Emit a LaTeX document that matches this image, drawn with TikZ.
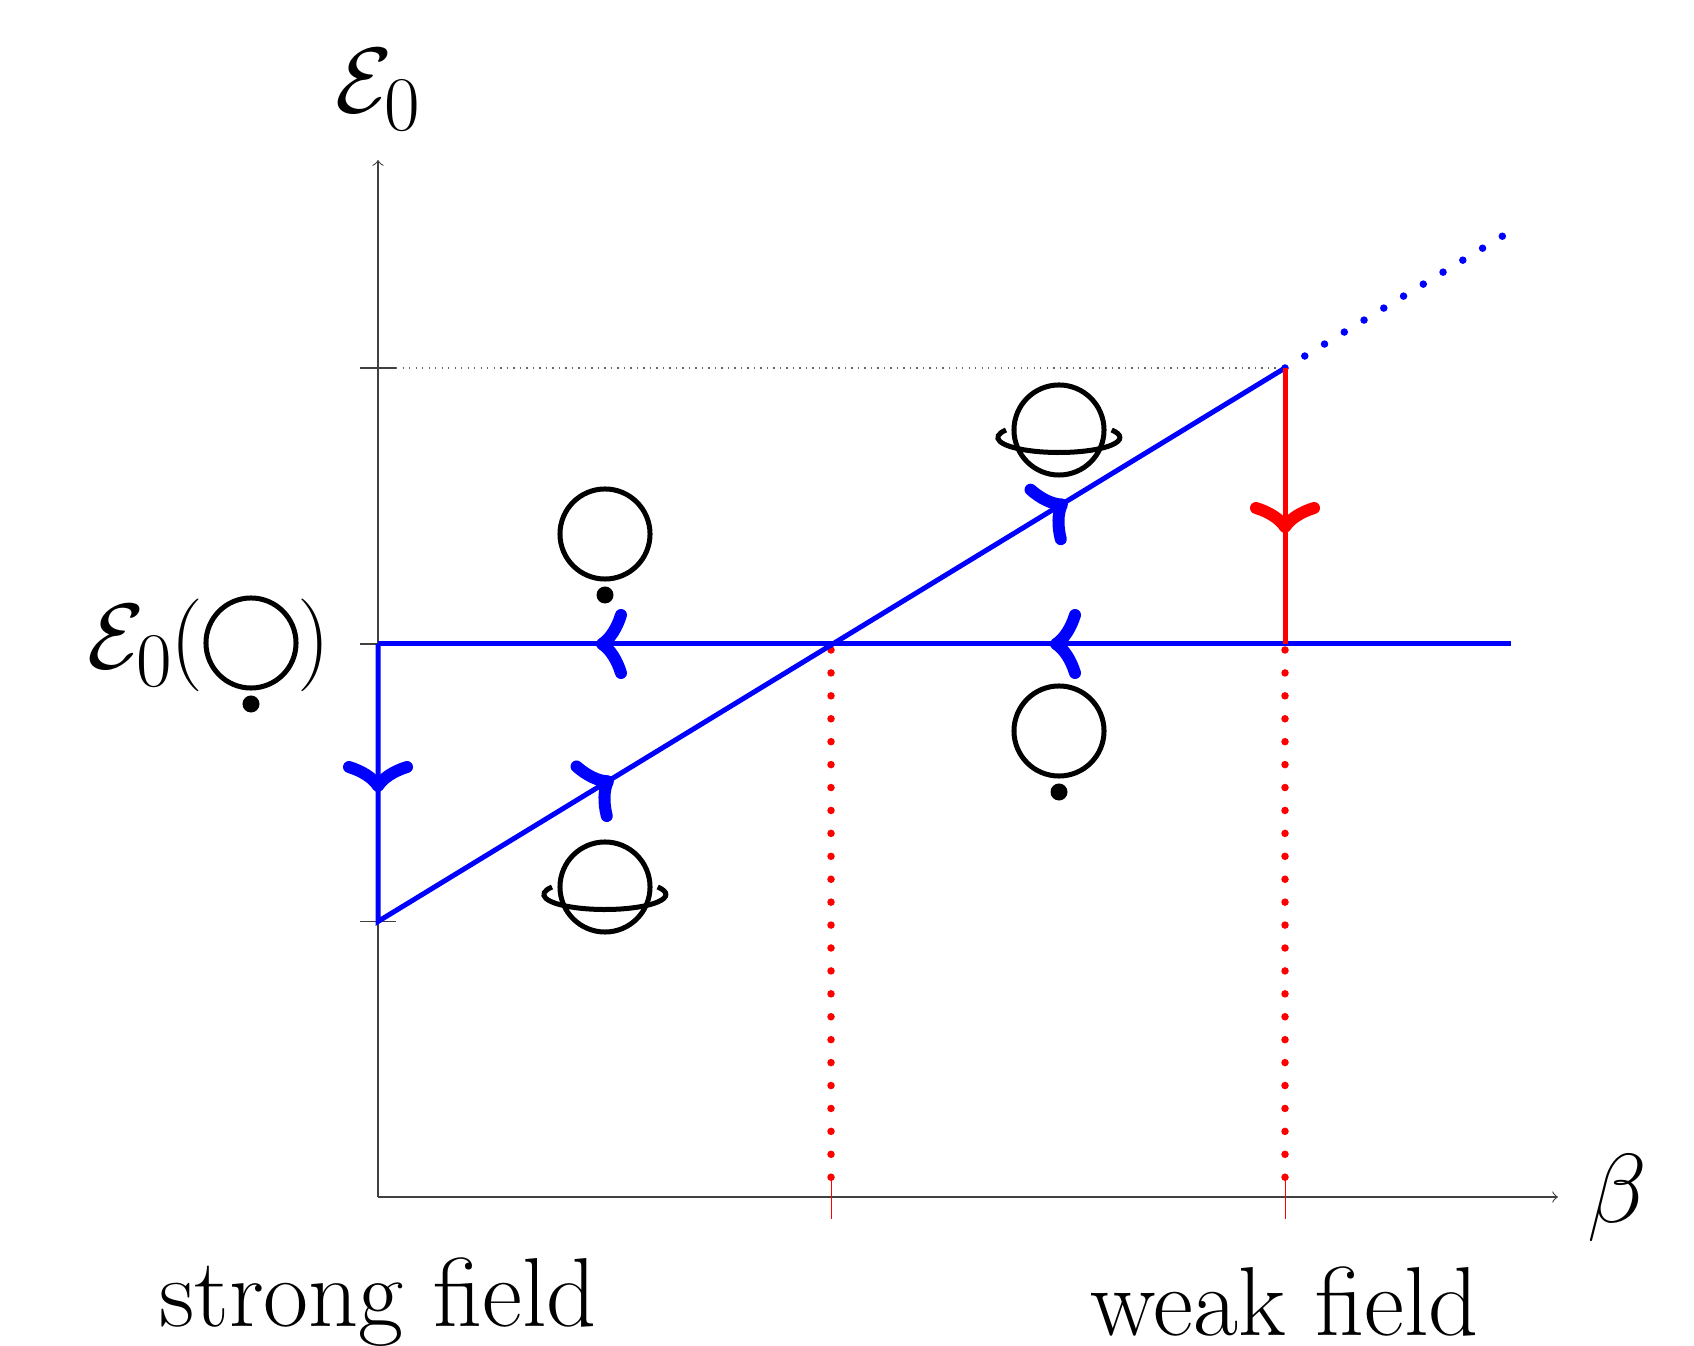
\documentclass[tikz,border=0pt]{standalone}
\usetikzlibrary{arrows}
\tikzset{
  x=0.01cm,y=0.01cm,
  lbl/.style={inner sep=0pt,outer sep=0pt,scale=1.12,font=\Huge},
  mathlbl/.style={inner sep=0pt,outer sep=0pt,scale=1.06,font=\Huge},
  axisline/.style={line width=0.3pt,black!75,->,>=to},
  tick/.style={line width=0.3pt,black!75},
  redtick/.style={line width=0.22pt,red},
  path blue/.style={line width=0.05cm,blue,line join=miter},
  path red/.style={line width=0.05cm,red},
  dots red/.style={line width=0.075cm,red,line cap=round,dash pattern=on 0pt off 0.2291cm},
  dots blue/.style={line width=0.075cm,blue,line cap=round,dash pattern=on 0pt off 0.2309cm},
  sym/.style={line width=0.05cm,black},
  pics/barbs/.style={code={
    \draw[pic actions,line width=0.12cm,line cap=round,line join=round]
      (-25,29) .. controls (-21,16) and (-14,5) .. (-6,0)
      .. controls (-14,-5) and (-21,-16) .. (-25,-29);
  }},
  pics/dotball/.style={code={
    \draw[sym] (0,0) circle[radius=0.45cm];
    \fill[black] (0,-61) circle[radius=0.085cm];
  }},
  pics/ringball/.style={code={
    \draw[sym] (0,0) circle[radius=0.45cm];
    \draw[sym] (-53,0) arc[start angle=150,end angle=390,x radius=0.61cm,y radius=0.15cm];
  }},
}
\begin{document}
\begin{tikzpicture}
\useasboundingbox (0,0) rectangle (1694,1345);
% named points
\coordinate (O) at (378,148);
\coordinate (Ytop) at (378,1185);
\coordinate (Xend) at (1558,148);
\coordinate (A) at (378,701);
\coordinate (B) at (378,423.5);
\coordinate (C) at (1285,977);
\coordinate (D) at (1285,701);
\coordinate (Hend) at (1511,701);
\coordinate (M) at (831,701);
% axes and ticks
\draw[axisline] (O) -- (Ytop);
\draw[axisline] (O) -- (Xend);
\draw[tick] (360,977) -- (396,977);
\draw[tick] (360,701) -- (A);
\draw[tick] (360,423.5) -- (396,423.5);
\draw[line width=0.4pt,black!60,dash pattern=on 0.4pt off 1.45pt] (396,977) -- (C);
\draw[redtick] (831,168) -- (831,126);
\draw[redtick] (1285,168) -- (1285,126);
% dotted
\draw[dots red] (831,695) -- (831,160);
\draw[dots red] (1285,695) -- (1285,160);
\draw[dots blue] (C) -- (1506,1111);
% red and blue lines
\draw[path blue] (A) -- (Hend);
\draw[path blue] (A) -- (B) -- (C);
\draw[path red] (C) -- (D);
% tips
\pic[blue,rotate=-90] at (378,553) {barbs};
\pic[blue,rotate=180] at (596,701) {barbs};
\pic[blue,rotate=180] at (1050,701) {barbs};
\pic[blue,rotate=31.4] at (613,566.8) {barbs};
\pic[blue,rotate=31.4] at (1067,843.6) {barbs};
\pic[red,rotate=-90] at (1285,812) {barbs};
% symbols
\pic at (605,811) {dotball};
\pic at (1059,614) {dotball};
\pic at (251,702) {dotball};
\pic at (605,458) {ringball};
\pic at (1059,915) {ringball};
% labels
\node[mathlbl,anchor=base] (ytitle) at (379,1232) {$\mathcal{E}_0$};
\node[mathlbl,anchor=base east] (ylabelE) at (174,676) {$\mathcal{E}_0$};
\node[mathlbl,anchor=base east] (ylabelL) at (203,676) {$($};
\node[mathlbl,anchor=base west] (ylabelR) at (297,676) {$)$};
\node[lbl,anchor=base] (xtitle) at (1617,123) {$\beta$};
\node[lbl,anchor=base] (strong) at (378,19) {strong field};
\node[lbl,anchor=base] (weak) at (1285,10) {weak field};
\end{tikzpicture}
\end{document}
